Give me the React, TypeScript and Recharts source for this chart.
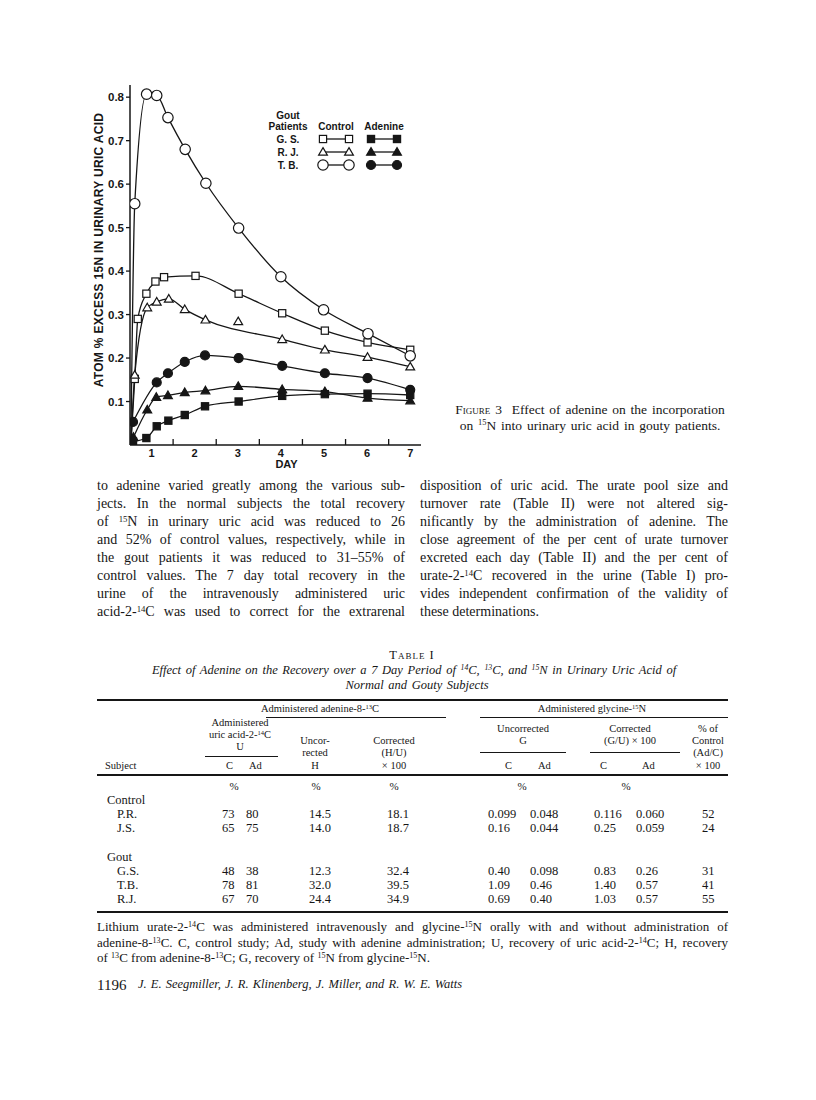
import React from 'react'
import { ComposedChart, Line, Scatter, XAxis, YAxis, Legend } from 'recharts'

type Pt = [number, number]

// axis ticks: day labels sit on whole days, tick marks between days
const dayLabels = [1, 2, 3, 4, 5, 6, 7]
const dayBounds = [1.5, 2.5, 3.5, 4.5, 5.5, 6.5]
const yTicks = [0.1, 0.2, 0.3, 0.4, 0.5, 0.6, 0.7, 0.8]

// control curves start from the origin
const curveStart: Pt = [0.52, 0]

// [day, atom % excess 15N]
const gsControl: Pt[] = [
  [0.61, 0.152], [0.68, 0.29], [0.88, 0.348], [1.09, 0.376], [1.29, 0.386], [2.02, 0.389],
  [3.02, 0.348], [4.03, 0.303], [5.02, 0.263], [6.01, 0.236], [7.0, 0.219],
]
const rjControl: Pt[] = [
  [0.61, 0.161], [0.9, 0.316], [1.12, 0.329], [1.4, 0.336], [1.77, 0.312], [2.25, 0.288],
  [4.03, 0.243], [5.02, 0.219], [6.01, 0.202], [7.0, 0.18],
]
// point that the drawn curve does not go through
const rjControlStray: Pt[] = [[3.01, 0.284]]
const tbControl: Pt[] = [
  [0.61, 0.555], [0.885, 0.807], [1.12, 0.804], [1.38, 0.753], [1.78, 0.68], [2.26, 0.602],
  [3.02, 0.499], [4.0, 0.387], [4.99, 0.311], [6.02, 0.256], [7.0, 0.205],
]
const gsAdenine: Pt[] = [
  [0.57, 0.008], [0.88, 0.016], [1.12, 0.043], [1.39, 0.056], [1.77, 0.069], [2.24, 0.089],
  [3.02, 0.1], [4.03, 0.113], [5.02, 0.117], [6.01, 0.118], [7.0, 0.115],
]
const rjAdenine: Pt[] = [
  [0.58, 0.018], [0.9, 0.081], [1.11, 0.11], [1.38, 0.114], [1.77, 0.121], [2.25, 0.125],
  [3.01, 0.135], [4.03, 0.128], [5.02, 0.123], [6.01, 0.108], [7.0, 0.102],
]
const tbAdenine: Pt[] = [
  [0.57, 0.053], [1.12, 0.144], [1.38, 0.165], [1.77, 0.191], [2.24, 0.206], [3.02, 0.2],
  [4.03, 0.182], [5.02, 0.165], [6.01, 0.154], [7.0, 0.127],
]

const patients = ['G.S.', 'R.J.', 'T.B.']

// table I
const tableHeadRow = ['%', '%', '%', '%', '%']
const controlRows = [
  ['P.R.', '73', '80', '14.5', '18.1', '0.099', '0.048', '0.116', '0.060', '52'],
  ['J.S.', '65', '75', '14.0', '18.7', '0.16', '0.044', '0.25', '0.059', '24'],
]
const goutRows = [
  ['G.S.', '48', '38', '12.3', '32.4', '0.40', '0.098', '0.83', '0.26', '31'],
  ['T.B.', '78', '81', '32.0', '39.5', '1.09', '0.46', '1.40', '0.57', '41'],
  ['R.J.', '67', '70', '24.4', '34.9', '0.69', '0.40', '1.03', '0.57', '55'],
]

const leftLines = [
  'to adenine varied greatly among the various sub-',
  'jects. In the normal subjects the total recovery',
  'of ^15N in urinary uric acid was reduced to 26',
  'and 52% of control values, respectively, while in',
  'the gout patients it was reduced to 31–55% of',
  'control values. The 7 day total recovery in the',
  'urine of the intravenously administered uric',
  'acid-2-^14C was used to correct for the extrarenal',
]
const rightLines = [
  'disposition of uric acid. The urate pool size and',
  'turnover rate (Table II) were not altered sig-',
  'nificantly by the administration of adenine. The',
  'close agreement of the per cent of urate turnover',
  'excreted each day (Table II) and the per cent of',
  'urate-2-^14C recovered in the urine (Table I) pro-',
  'vides independent confirmation of the validity of',
  'these determinations.',
]
const footLines = [
  'Lithium urate-2-^14C was administered intravenously and glycine-^15N orally with and without administration of',
  'adenine-8-^13C. C, control study; Ad, study with adenine administration; U, recovery of uric acid-2-^14C; H, recovery',
  'of ^13C from adenine-8-^13C; G, recovery of ^15N from glycine-^15N.',
]

const ink = '#161616'
const sans = '"Liberation Sans", Arial, sans-serif'
const serif = '"Liberation Serif", "Times New Roman", serif'

const toRows = (pts: Pt[]) => pts.map(([d, v]) => ({ d, v }))

const series = [
  { patient: 'G.S.', shape: 'square', filled: false, marks: gsControl, curve: [curveStart, ...gsControl] },
  { patient: 'R.J.', shape: 'triangle', filled: false, marks: [...rjControl, ...rjControlStray], curve: [curveStart, ...rjControl] },
  { patient: 'T.B.', shape: 'circle', filled: false, marks: tbControl, curve: [curveStart, ...tbControl] },
  { patient: 'G.S.', shape: 'square', filled: true, marks: gsAdenine, curve: gsAdenine },
  { patient: 'R.J.', shape: 'triangle', filled: true, marks: rjAdenine, curve: rjAdenine },
  { patient: 'T.B.', shape: 'circle', filled: true, marks: tbAdenine, curve: tbAdenine },
]

function Marker({ cx, cy, shape, filled }: any) {
  const fill = filled ? ink : '#fff'
  if (shape === 'square') {
    return <rect x={cx - 3.6} y={cy - 3.6} width={7.2} height={7.2} fill={fill} stroke={ink} strokeWidth={1.2} />
  }
  if (shape === 'triangle') {
    return <polygon points={`${cx},${cy - 4.4} ${cx + 4.4},${cy + 3.2} ${cx - 4.4},${cy + 3.2}`} fill={fill} stroke={ink} strokeWidth={1.2} />
  }
  return <circle cx={cx} cy={cy} r={filled ? 4.5 : 5.2} fill={fill} stroke={ink} strokeWidth={1.2} />
}

const DayTick = ({ x, y, payload }: any) => {
  const v = payload.value
  if (Number.isInteger(v)) {
    return <text x={x} y={y} dy="0.71em" textAnchor="middle" fontFamily={sans} fontWeight="bold" fontSize={11} fill={ink}>{v}</text>
  }
  return <line x1={x} x2={x} y1={y - 4} y2={y - 10} stroke={ink} strokeWidth={1.3} />
}

function Sample({ x1, x2, y, shape, filled }: any) {
  return (
    <g>
      <line x1={x1} x2={x2} y1={y} y2={y} stroke={ink} strokeWidth={1.3} />
      <Marker cx={x1} cy={y} shape={shape} filled={filled} />
      <Marker cx={x2} cy={y} shape={shape} filled={filled} />
    </g>
  )
}

const LegendBox = () => {
  const txt = { fontFamily: sans, fontWeight: 'bold' as const, fontSize: 10, fill: ink, textAnchor: 'middle' as const }
  return (
    <svg width={160} height={70} style={{ display: 'block', overflow: 'visible' }}>
      <text x={26} y={15} {...txt}>Gout</text>
      <text x={26} y={26} {...txt}>Patients</text>
      <text x={74} y={26} {...txt}>Control</text>
      <text x={122} y={26} {...txt}>Adenine</text>
      {patients.map((p, i) => {
        const ctl = series.find(s => s.patient === p && !s.filled)!
        const y = 35 + i * 13
        return (
          <g key={p}>
            <text x={26} y={y + 4} {...txt}>{p.replace('.', '. ')}</text>
            <Sample x1={61} x2={87} y={y} shape={ctl.shape} filled={false} />
            <Sample x1={109} x2={135} y={y} shape={ctl.shape} filled={true} />
          </g>
        )
      })}
    </svg>
  )
}

const rich = (s: string) =>
  s.split(/(\^\d+)/).map((part, i) =>
    part.startsWith('^')
      ? <span key={i} style={{ fontSize: '0.62em', position: 'relative', top: '-0.5em' }}>{part.slice(1)}</span>
      : <React.Fragment key={i}>{part}</React.Fragment>
  )

function Txt({ x, y, size = 11.5, align = 'left', italic = false, children, style }: any) {
  const shift = align === 'center' ? 'translateX(-50%)' : align === 'right' ? 'translateX(-100%)' : 'none'
  return (
    <div style={{
      position: 'absolute', left: x, top: y - size * 0.62, fontSize: size, lineHeight: `${size * 1.24}px`,
      whiteSpace: 'nowrap', transform: shift, fontStyle: italic ? 'italic' : 'normal', ...style,
    }}>
      {children}
    </div>
  )
}

function JLine({ x, y, w, text, last, size = 14, h = 18 }: any) {
  return (
    <div style={{
      position: 'absolute', left: x, top: y - h / 2, width: w, height: h, lineHeight: `${h}px`, fontSize: size,
      textAlign: last ? 'left' : 'justify', textAlignLast: last ? 'left' : 'justify', whiteSpace: 'nowrap', overflow: 'visible',
    }}>
      {rich(text)}
    </div>
  )
}

const Rule = ({ x1, x2, y, t = 1 }: any) => (
  <div style={{ position: 'absolute', left: x1, top: y - t / 2, width: x2 - x1, height: t, background: ink }} />
)

function Chart() {
  const xTicks = [...dayLabels, ...dayBounds].sort((a, b) => a - b)
  return (
    <ComposedChart width={440} height={480} margin={{ top: 85, right: 19, bottom: 5, left: 90 }}>
      <XAxis
        type="number" dataKey="d" domain={[0.5, 7.25]} allowDataOverflow ticks={xTicks} interval={0}
        height={30} tickSize={0} tickMargin={4} tickLine={false} tick={<DayTick />}
        axisLine={{ stroke: ink, strokeWidth: 1.5 }}
        label={({ viewBox }: any) => (
          <text x={viewBox.x + viewBox.width / 2 + 11} y={viewBox.y + 23} textAnchor="middle" fontFamily={sans} fontWeight="bold" fontSize={11} fill={ink}>DAY</text>
        )}
      />
      <YAxis
        type="number" dataKey="v" domain={[0, 0.828]} allowDataOverflow ticks={yTicks} interval={0}
        width={40} tickSize={4} tickMargin={2} tickFormatter={(v: number) => v.toFixed(1)}
        tick={{ fontFamily: sans, fontWeight: 'bold', fontSize: 11.5, fill: ink }}
        tickLine={{ stroke: ink, strokeWidth: 1.3 }} axisLine={{ stroke: ink, strokeWidth: 1.5 }}
        label={({ viewBox }: any) => (
          <text transform={`translate(${viewBox.x + 9}, ${viewBox.y + viewBox.height / 2 - 15}) rotate(-90)`} textAnchor="middle" dominantBaseline="central" fontFamily={sans} fontWeight="bold" fontSize={12} letterSpacing={0.3} fill={ink}>
            ATOM % EXCESS 15N IN URINARY URIC ACID
          </text>
        )}
      />
      {series.map((s, i) => (
        <Line key={`l${i}`} data={toRows(s.curve)} dataKey="v" type="monotone" stroke={ink} strokeWidth={1.3}
          dot={false} activeDot={false} legendType="none" isAnimationActive={false} />
      ))}
      {series.map((s, i) => (
        <Scatter key={`s${i}`} data={toRows(s.marks)} dataKey="v" legendType="none" isAnimationActive={false}
          shape={(p: any) => <Marker cx={p.cx} cy={p.cy} shape={s.shape} filled={s.filled} />} />
      ))}
      <Legend layout="horizontal" verticalAlign="middle" align="center" content={<LegendBox />}
        wrapperStyle={{ left: 262, top: 104, width: 160, height: 70 }} />
    </ComposedChart>
  )
}

function TableI() {
  const cols = [117, 222, 246, 309, 387, 488, 530, 594, 636, 702]
  const rowY = (start: number, i: number) => start + i * 14
  const renderRow = (r: string[], y: number) =>
    r.map((c, j) => <Txt key={j} x={cols[j]} y={y} size={12.5}>{c}</Txt>)
  return (
    <>
      <Txt x={412} y={656} size={12.5} align="center" style={{ fontVariant: 'small-caps', letterSpacing: 1 }}>Table I</Txt>
      <Txt x={414} y={671} size={12.5} align="center" italic style={{ wordSpacing: 1.5 }}>
        {rich('Effect of Adenine on the Recovery over a 7 Day Period of ^14C, ^13C, and ^15N in Urinary Uric Acid of')}
      </Txt>
      <Txt x={417} y={686} size={12.5} align="center" italic style={{ wordSpacing: 1.5 }}>Normal and Gouty Subjects</Txt>
      <Rule x1={97} x2={728} y={700} t={2} />

      <Txt x={320} y={709} size={10.5} align="center">{rich('Administered adenine-8-^13C')}</Txt>
      <Rule x1={266} x2={446} y={717} t={0.8} />
      <Txt x={592} y={709} size={10.5} align="center">{rich('Administered glycine-^15N')}</Txt>
      <Rule x1={480} x2={728} y={717} t={0.8} />

      <Txt x={240} y={723} size={10.5} align="center">Administered</Txt>
      <Txt x={240} y={735} size={10.5} align="center">{rich('uric acid-2-^14C')}</Txt>
      <Txt x={240} y={747} size={10.5} align="center">U</Txt>
      <Rule x1={205} x2={278} y={756} t={0.8} />

      <Txt x={315} y={741} size={10.5} align="center">Uncor-</Txt>
      <Txt x={315} y={753} size={10.5} align="center">rected</Txt>
      <Txt x={315} y={766} size={10.5} align="center">H</Txt>
      <Txt x={394} y={741} size={10.5} align="center">Corrected</Txt>
      <Txt x={394} y={753} size={10.5} align="center">(H/U)</Txt>
      <Txt x={394} y={766} size={10.5} align="center">× 100</Txt>

      <Txt x={523} y={729} size={10.5} align="center">Uncorrected</Txt>
      <Txt x={523} y={741} size={10.5} align="center">G</Txt>
      <Rule x1={480} x2={566} y={752} t={0.8} />
      <Txt x={630} y={729} size={10.5} align="center">Corrected</Txt>
      <Txt x={630} y={741} size={10.5} align="center">(G/U) × 100</Txt>
      <Rule x1={590} x2={680} y={752} t={0.8} />
      <Txt x={708} y={729} size={10.5} align="center">% of</Txt>
      <Txt x={708} y={741} size={10.5} align="center">Control</Txt>
      <Txt x={708} y={753} size={10.5} align="center">(Ad/C)</Txt>
      <Txt x={708} y={766} size={10.5} align="center">× 100</Txt>

      <Txt x={105} y={766} size={10.5}>Subject</Txt>
      <Txt x={226} y={766} size={10.5}>C</Txt>
      <Txt x={249} y={766} size={10.5}>Ad</Txt>
      <Txt x={505} y={766} size={10.5}>C</Txt>
      <Txt x={538} y={766} size={10.5}>Ad</Txt>
      <Txt x={600} y={766} size={10.5}>C</Txt>
      <Txt x={642} y={766} size={10.5}>Ad</Txt>
      <Rule x1={97} x2={728} y={775} t={1.5} />

      {tableHeadRow.map((c, j) => (
        <Txt key={j} x={[234, 316, 394, 522, 626][j]} y={787} size={11} align="center">{c}</Txt>
      ))}
      <Txt x={107} y={801} size={12.5}>Control</Txt>
      {controlRows.map((r, i) => <React.Fragment key={r[0]}>{renderRow(r, rowY(815, i))}</React.Fragment>)}
      <Txt x={107} y={858} size={12.5}>Gout</Txt>
      {goutRows.map((r, i) => <React.Fragment key={r[0]}>{renderRow(r, rowY(872, i))}</React.Fragment>)}
      <Rule x1={97} x2={728} y={912} t={1.5} />
    </>
  )
}

export default function App() {
  return (
    <div style={{ position: 'absolute', left: 0, top: 0, width: 816, height: 1100, background: '#fff', color: ink, fontFamily: serif, overflow: 'hidden' }}>
      <div style={{ position: 'absolute', left: 0, top: 0 }}>
        <Chart />
      </div>

      <Txt x={590} y={410} size={13.5} align="center" style={{ wordSpacing: 1.5 }}>
        <span style={{ fontVariant: 'small-caps' }}>Figure 3</span>&nbsp; Effect of adenine on the incorporation
      </Txt>
      <Txt x={590} y={426} size={13.5} align="center" style={{ wordSpacing: 1.5 }}>{rich('on ^15N into urinary uric acid in gouty patients.')}</Txt>

      {leftLines.map((t, i) => <JLine key={`a${i}`} x={97} y={486 + i * 18} w={308} text={t} />)}
      {rightLines.map((t, i) => <JLine key={`b${i}`} x={420} y={486 + i * 18} w={308} text={t} last={i === rightLines.length - 1} />)}

      <TableI />

      {footLines.map((t, i) => (
        <JLine key={`f${i}`} x={97} y={927 + i * 15.5} w={631} h={15.5} size={13} text={t} last={i === footLines.length - 1} />
      ))}

      <Txt x={97} y={985} size={15}>1196</Txt>
      <Txt x={138} y={985} size={12.5} italic style={{ wordSpacing: 1 }}>
        J. E. Seegmiller, J. R. Klinenberg, J. Miller, and R. W. E. Watts
      </Txt>
    </div>
  )
}
